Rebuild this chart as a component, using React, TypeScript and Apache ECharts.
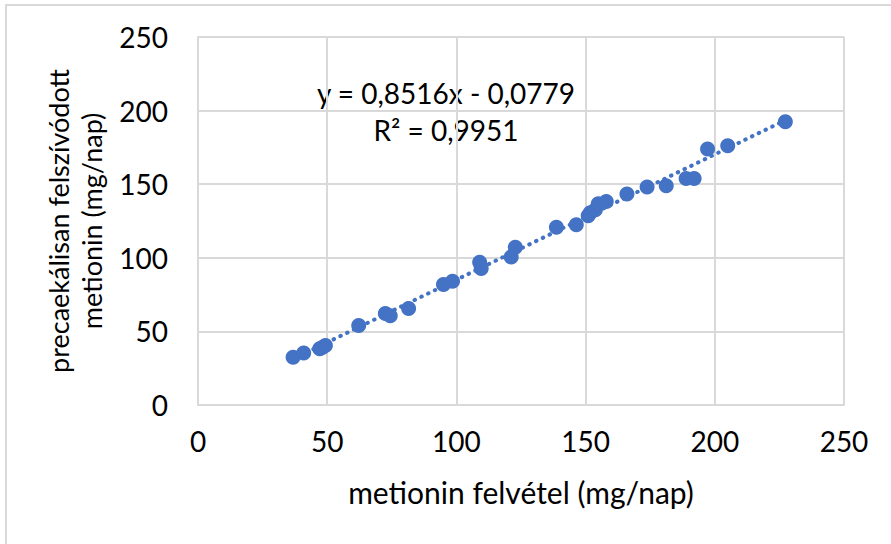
import React, { useEffect, useRef } from "react";
import * as echarts from "echarts";

const intakeX: number[] = [36.8, 40.9, 47.1, 48.1, 49.3, 62.2, 72.5, 74.4, 81.5, 95.0, 98.5, 109.0, 109.6, 121.2, 122.8, 138.7, 146.4, 151.0, 151.8, 153.8, 154.9, 158.0, 166.0, 173.8, 181.2, 188.9, 192.0, 197.2, 205.0, 227.3];
const absorbedY: number[] = [32.5, 35.4, 38.2, 39.0, 40.4, 54.0, 62.1, 60.7, 65.5, 81.8, 84.0, 96.9, 92.7, 100.6, 107.1, 120.7, 122.5, 128.5, 130.6, 132.7, 136.8, 138.2, 143.4, 148.1, 149.0, 153.8, 153.8, 173.9, 176.2, 192.5];
const slope = 0.8516;
const intercept = -0.0779;
const rSquared = "0,9951";
const axisTicks: number[] = [0, 50, 100, 150, 200, 250];
const xTitle = "metionin felvétel (mg/nap)";
const yTitleLines: string[] = ["precaekálisan felszívódott", "metionin (mg/nap)"];

const FONT = "Lato";
const BLUE = "#4472C4";
const GRID = "#d9d9d9";

export default function App() {
  const ref = useRef<HTMLDivElement>(null);
  useEffect(() => {
    if (!ref.current) return;
    const chart = echarts.init(ref.current, undefined, { renderer: "svg" });
    const points = intakeX.map((x, i) => [x, absorbedY[i]]);
    const xMin = Math.min(...intakeX);
    const xMax = Math.max(...intakeX);
    const trend = [xMin, xMax].map((x) => [x, slope * x + intercept]);
    const eq1 = `y = ${slope.toFixed(4).replace(".", ",")}x - ${Math.abs(intercept).toFixed(4).replace(".", ",")}`;
    const eq2 = `R² = ${rSquared}`;
    const axisCommon = {
      type: "value" as const,
      min: axisTicks[0],
      max: axisTicks[axisTicks.length - 1],
      interval: 50,
      axisLine: { show: true, lineStyle: { color: GRID, width: 2 } },
      axisTick: { show: false },
      splitLine: { show: true, lineStyle: { color: GRID, width: 2 } },
    };
    chart.setOption({
      animation: false,
      backgroundColor: "#ffffff",
      grid: { left: 198, top: 37, right: 47, bottom: 139, containLabel: false },
      xAxis: {
        ...axisCommon,
        axisLabel: { color: "#000", fontFamily: FONT, fontSize: 28, margin: 22 },
        name: xTitle,
        nameLocation: "middle",
        nameGap: 72,
        nameTextStyle: { color: "#000", fontFamily: FONT, fontSize: 30 },
      },
      yAxis: {
        ...axisCommon,
        axisLabel: { color: "#000", fontFamily: FONT, fontSize: 28, margin: 30 },
        name: yTitleLines.join("\n"),
        nameLocation: "middle",
        nameGap: 88,
        nameTextStyle: { color: "#000", fontFamily: FONT, fontSize: 27, lineHeight: 33 },
      },
      graphic: [
        {
          type: "rect",
          shape: { x: 6, y: 5, width: 1000, height: 1000 },
          style: { fill: "none", stroke: GRID, lineWidth: 2 },
          silent: true,
        },
        {
          type: "text",
          x: 446,
          y: 93,
          style: { text: eq1, font: `28px ${FONT}`, fill: "#000", align: "center", verticalAlign: "middle" },
        },
        {
          type: "text",
          x: 446,
          y: 130,
          style: { text: eq2, font: `28px ${FONT}`, fill: "#000", align: "center", verticalAlign: "middle" },
        },
      ],
      series: [
        {
          type: "scatter",
          data: points,
          symbol: "circle",
          symbolSize: 15,
          itemStyle: { color: BLUE, opacity: 1 },
          z: 2,
        },
        {
          type: "line",
          data: trend,
          showSymbol: false,
          symbol: "none",
          lineStyle: { color: BLUE, width: 4, type: [0.5, 7], cap: "round" },
          z: 3,
        },
      ],
    });
    return () => chart.dispose();
  }, []);
  return <div ref={ref} style={{ position: "fixed", left: 0, top: 0, width: 891, height: 544 }} />;
}
